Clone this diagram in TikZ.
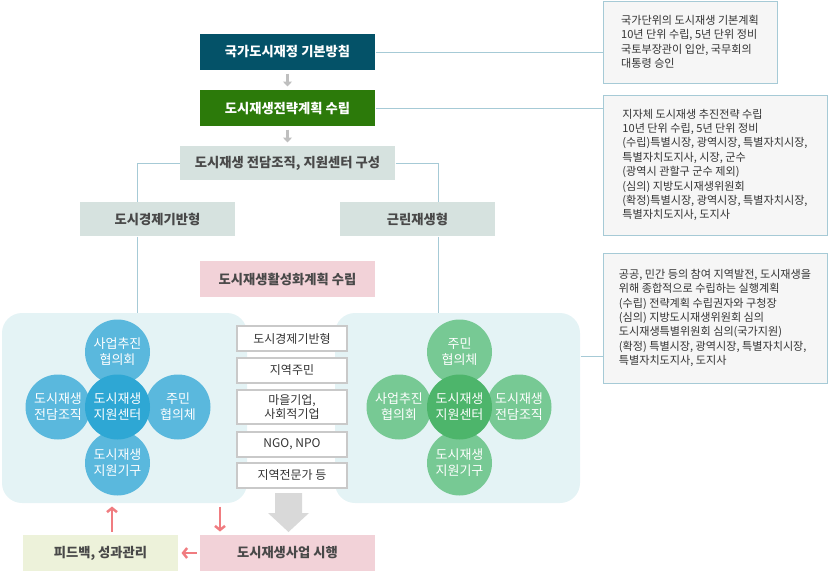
\documentclass[tikz,border=0pt]{standalone}
\usepackage{fontspec}
\setmainfont{Noto Sans CJK KR}
\usetikzlibrary{arrows.meta}

\definecolor{cnavy}{RGB}{4,82,104}
\definecolor{cgreen}{RGB}{44,122,10}
\definecolor{cgray}{RGB}{214,226,223}
\definecolor{cpink}{RGB}{242,210,216}
\definecolor{cfeed}{RGB}{237,242,218}
\definecolor{cpanel}{RGB}{228,243,245}
\definecolor{cblue}{RGB}{90,184,221}
\definecolor{cbluec}{RGB}{46,167,212}
\definecolor{cgrn}{RGB}{119,201,148}
\definecolor{cgrnc}{RGB}{77,181,107}
\definecolor{cline}{RGB}{166,202,214}
\definecolor{cnote}{RGB}{246,246,246}
\definecolor{cmid}{RGB}{201,201,201}
\definecolor{carr}{RGB}{240,124,128}
\definecolor{ctxt}{RGB}{72,72,72}

\begin{document}
\begin{tikzpicture}[x=1pt,y=-1pt,line width=1pt,
  hd/.style={inner sep=0pt,minimum height=36pt,font=\fontsize{13.3}{15}\selectfont\bfseries,text=ctxt},
  note/.style={draw=cline,fill=cnote,inner sep=0pt,align=left,font=\fontsize{11.1}{14.4}\selectfont,text=black!80},
  pan/.style={fill=cpanel,rounded corners=20pt,minimum width=245pt,minimum height=190pt,inner sep=0pt},
  mid/.style={draw=cmid,line width=2pt,fill=white,minimum width=110pt,minimum height=25pt,inner sep=0pt,align=center,font=\fontsize{12}{14.5}\selectfont,text=black!80},
  bub/.style={circle,minimum size=65pt,inner sep=0pt,align=center,text=white,font=\fontsize{13}{16}\selectfont},
  link/.style={draw=cline,line width=1pt},
  parr/.style={draw=carr,line width=2.5pt,-{Straight Barb[length=4pt,width=10pt]},shorten <=3pt,shorten >=3pt}]
  \useasboundingbox (0,0) rectangle (828,571);

  % single-column steps
  \node[hd,fill=cnavy,text=white,minimum width=175pt] (base) at (287.5,52) {국가도시재정 기본방침};
  \node[hd,fill=cgreen,text=white,minimum width=175pt] (strat) at (287.5,108) {도시재생전략계획 수립};
  \node[hd,fill=cgray,minimum width=215pt,minimum height=34pt] (org) at (287.5,163) {도시재생 전담조직, 지원센터 구성};
  \node[hd,fill=cgray,minimum width=155pt,minimum height=34pt] (econ) at (157.5,219) {도시경제기반형};
  \node[hd,fill=cgray,minimum width=155pt,minimum height=34pt] (nbhd) at (417.5,219) {근린재생형};
  \node[hd,fill=cpink,minimum width=175pt] (plan) at (287.5,279) {도시재생활성화계획 수립};

  \draw[draw=black!25,line width=2.5pt,-{Triangle[length=5pt,width=9pt]},shorten <=3pt,shorten >=3pt] (base) -- (strat);
  \draw[draw=black!25,line width=2.5pt,-{Triangle[length=5pt,width=9pt]},shorten <=3pt,shorten >=3pt] (strat) -- (org);

  % panels
  \node[pan] (lpan) at (124.5,408) {};
  \node[pan] (rpan) at (457.5,408) {};

  % branch lines
  \coordinate (lx) at (137,0);
  \coordinate (rx) at (438,0);
  \draw[link] (org.west) -| (econ.north -| lx);
  \draw[link] (econ.south -| lx) -- (lpan.north -| lx);
  \draw[link] (org.east) -| (nbhd.north -| rx);
  \draw[link] (nbhd.south -| rx) -- (rpan.north -| rx);

  % left cluster
  \node[bub,fill=cblue] (lt) at (117.5,352) {사업추진\\협의회};
  \node[bub,fill=cblue] (ll) at (58,407) {도시재생\\전담조직};
  \node[bub,fill=cblue] (lr) at (178,407) {주민\\협의체};
  \node[bub,fill=cblue] (lb) at (117.5,463) {도시재생\\지원기구};
  \node[bub,fill=cbluec] (lc) at (117.5,407) {도시재생\\지원센터};

  % right cluster
  \node[bub,fill=cgrn] (rt) at (459.5,352) {주민\\협의체};
  \node[bub,fill=cgrn] (rl) at (399,407) {사업추진\\협의회};
  \node[bub,fill=cgrn] (rr) at (519,407) {도시재생\\전담조직};
  \node[bub,fill=cgrn] (rb) at (459.5,463) {도시재생\\지원기구};
  \node[bub,fill=cgrnc] (rc) at (459.5,407) {도시재생\\지원센터};

  % participants
  \node[mid] (m1) at (292,338.5) {도시경제기반형};
  \node[mid] (m2) at (292,370) {지역주민};
  \node[mid,minimum height=34pt] (m3) at (292,407) {마을기업,\\사회적기업};
  \node[mid] (m4) at (292,444) {NGO, NPO};
  \node[mid] (m5) at (292,475) {지역전문가 등};
  \fill[black!15] (275,493) -- (302,493) -- (302,513) -- (309,513) -- (288.5,532) -- (268,513) -- (275,513) -- cycle;

  % bottom
  \node[hd,fill=cfeed,minimum width=155pt] (fb) at (100.5,553) {피드백, 성과관리};
  \node[hd,fill=cpink,minimum width=175pt] (exec) at (287.5,553) {도시재생사업 시행};
  \coordinate (ua) at (112,0);
  \coordinate (da) at (220,0);
  \draw[parr] (fb.north -| ua) -- (lpan.south -| ua);
  \draw[parr] (lpan.south -| da) -- (exec.north -| da);
  \draw[parr] (exec.west) -- (fb.east);

  % notes
  \node[note,minimum width=174pt,minimum height=82pt] (n1) at (690,42)
    {국가단위의 도시재생 기본계획\\10년 단위 수립, 5년 단위 정비\\국토부장관이 입안, 국무회의\\대통령 승인};
  \node[note,minimum width=224pt,minimum height=140pt] (n2) at (715,165)
    {지자체 도시재생 추진전략 수립\\10년 단위 수립, 5년 단위 정비\\(수립)특별시장, 광역시장, 특별자치시장,\\특별자치도지사, 시장, 군수\\(광역시 관할구 군수 제외)\\(심의) 지방도시재생위원회\\(확정)특별시장, 광역시장, 특별자치시장,\\특별자치도지사, 도지사};
  \node[note,minimum width=224pt,minimum height=130pt] (n3) at (715,318)
    {공공, 민간 등의 참여 지역발전, 도시재생을\\위해 종합적으로 수립하는 실행계획\\(수립) 전략계획 수립권자와 구청장\\(심의) 지방도시재생위원회 심의\\도시재생특별위원회 심의(국가지원)\\(확정) 특별시장, 광역시장, 특별자치시장,\\특별자치도지사, 도지사};
  \draw[link] (base.east) -- (base.east -| n1.west);
  \draw[link] (strat.east) -- (strat.east -| n2.west);
  \draw[link] (rpan.east |- 0,356) -- (n3.west |- 0,356);
\end{tikzpicture}
\end{document}
